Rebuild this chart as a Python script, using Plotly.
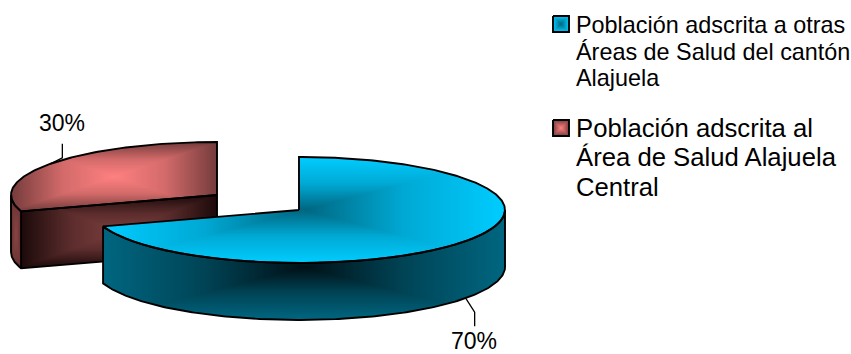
import numpy as np
import plotly.graph_objects as go

# Data
categorias = ["Población adscrita a otras Áreas de Salud del cantón Alajuela",
              "Población adscrita al Área de Salud Alajuela Central"]
porcentajes = [70, 30]
etiquetas = ["70%", "30%"]
lineas_leyenda = [["Población adscrita a otras", "Áreas de Salud del cantón", "Alajuela"],
                  ["Población adscrita al", "Área de Salud Alajuela", "Central"]]

# Pie geometry, in page pixels
RX, RY, DEPTH = 206.0, 53.0, 57.0
CENTROS = [(299.0, 210.0), (217.0, 195.0)]
FUENTE = "Liberation Sans"

W, H = 851, 354
xs = np.arange(W) + 0.5
ys = np.arange(H) + 0.5
GX, GY = np.meshgrid(xs, ys)

fig = go.Figure()
# Plotly paints heatmaps under lines within one subplot, so the front slice
# goes on an overlaying pair of axes to hide the outline of the rear slice.
capa = dict(xaxis="x", yaxis="y")


def escala(centro, borde, medio):
    a = [int(v) for v in centro[4:-1].split(",")]
    b = [int(v) for v in borde[4:-1].split(",")]
    m = [round(p + medio * (q - p)) for p, q in zip(a, b)]
    return [[0, centro], [0.5, f"rgb({m[0]},{m[1]},{m[2]})"], [1, borde]]


def degradado(mask, c_centro, c_borde, medio=0.5, caja=None):
    """Rectangular path gradient filling the pixels of a mask."""
    if not mask.any():
        return
    if caja is None:
        caja = (GX[mask].min(), GX[mask].max(), GY[mask].min(), GY[mask].max())
    x0, x1, y0, y1 = caja
    t = np.maximum(np.abs(GX - (x0 + x1) / 2) / ((x1 - x0) / 2),
                   np.abs(GY - (y0 + y1) / 2) / ((y1 - y0) / 2))
    z = np.where(mask, np.clip(t, 0, 1), np.nan)
    fila = np.where(mask.any(axis=1))[0]
    col = np.where(mask.any(axis=0))[0]
    sy, sx = slice(fila[0], fila[-1] + 1), slice(col[0], col[-1] + 1)
    fig.add_trace(go.Heatmap(x=xs[sx], y=ys[sy], z=z[sy, sx], zmin=0, zmax=1,
                             colorscale=escala(c_centro, c_borde, medio),
                             showscale=False, hoverinfo="skip", **capa))


def contorno(px, py, width=1.9):
    fig.add_trace(go.Scatter(x=px, y=py, mode="lines", hoverinfo="skip",
                             line=dict(color="black", width=width), **capa))


def punto(c, ang):
    r = np.radians(ang)
    return c[0] + RX * np.sin(r), c[1] - RY * np.cos(r)


def sector(c, a0, a1):
    ang = np.degrees(np.arctan2((GX - c[0]) / RX, -(GY - c[1]) / RY)) % 360
    dentro = ((GX - c[0]) / RX) ** 2 + ((GY - c[1]) / RY) ** 2 <= 1
    return dentro & (ang >= a0) & (ang <= a1)


def pared(mask_sup):
    """Pixels below the lower edge of a face, extruded by the pie depth."""
    inferior = np.where(mask_sup.any(axis=0), H - 1 - np.argmax(mask_sup[::-1], axis=0), -1)
    fondo = np.where(inferior >= 0, ys[np.maximum(inferior, 0)], -1e9)
    return (GY > fondo) & (GY <= fondo + DEPTH) & (inferior[None, :] >= 0)


corte = porcentajes[0] / sum(porcentajes) * 360

# Detached slice (drawn first, it sits behind)
c = CENTROS[1]
arco = np.linspace(corte, 360, 120)
ax, ay = punto(c, arco)
sup = sector(c, corte, 360)
muro = pared(sup)
esquina_x, esquina_y = punto(c, corte)
muro_ext = muro & (GX < esquina_x)
muro_int = muro & (GX >= esquina_x)
degradado(muro_ext, "rgb(135,68,68)", "rgb(105,50,50)")
degradado(muro_int, "rgb(125,62,62)", "rgb(28,10,10)", 0.35)
degradado(sup, "rgb(255,128,128)", "rgb(118,60,60)", 0.32)
ext = np.linspace(corte, 270, 30)
ex, ey = punto(c, ext)
contorno(np.r_[ex, ex[::-1], c[0], c[0], ex[0]],
         np.r_[ey, ey[::-1] + DEPTH, c[1] + DEPTH, c[1], ey[0]])
contorno([esquina_x, esquina_x], [esquina_y, esquina_y + DEPTH])
contorno(np.r_[c[0], ax, c[0]], np.r_[c[1], ay, c[1]])
mx, my = punto(c, (corte + 360) / 2)
contorno([mx, mx + 12, mx + 12], [my, my - 6, my - 20], 1.3)

# Main slice, on the overlaying axes
capa = dict(xaxis="x2", yaxis="y2")
c = CENTROS[0]
arco = np.linspace(0, corte, 300)
ax, ay = punto(c, arco)
sup = sector(c, 0, corte)
muro = pared(sup)
degradado(muro, "rgb(0,16,22)", "rgb(0,102,128)", 0.6)
degradado(sup, "rgb(0,102,128)", "rgb(0,204,255)", 0.66)
frente = np.linspace(90, corte, 200)
fx, fy = punto(c, frente)
contorno(np.r_[fx, fx[::-1], fx[0]], np.r_[fy, fy[::-1] + DEPTH, fy[0]])
contorno(np.r_[c[0], ax, c[0]], np.r_[c[1], ay, c[1]])
mx, my = punto(c, corte / 2)
contorno([mx, mx + 9, mx + 9], [my + DEPTH, my + DEPTH + 14, my + DEPTH + 28], 1.3)


def texto(x, y, s, size, anchor="left"):
    fig.add_annotation(x=x, y=y, text=s, showarrow=False, xanchor=anchor, yanchor="middle",
                       xref="x", yref="y",
                       font=dict(family=FUENTE, size=size, color="black"), align="left")


texto(474, 341, etiquetas[0], 23, "center")
texto(62, 123, etiquetas[1], 23, "center")

# Legend
ley_swatch_y = [24, 128]
ley_linea_y = [[25, 52, 78], [128, 157, 187]]
ley_size = [23.4, 25.7]
ley_color = [("rgb(0,102,128)", "rgb(0,204,255)"), ("rgb(255,128,128)", "rgb(118,60,60)")]
for sy, lineas, yy, tam, col in zip(ley_swatch_y, lineas_leyenda, ley_linea_y, ley_size, ley_color):
    caja = (553, 569, sy - 8, sy + 8)
    m = (GX >= caja[0]) & (GX <= caja[1]) & (GY >= caja[2]) & (GY <= caja[3])
    degradado(m, col[0], col[1], 0.5, caja)
    contorno([553, 569, 569, 553, 553], [sy - 8, sy - 8, sy + 8, sy + 8, sy - 8])
    for l, y in zip(lineas, yy):
        texto(574, y, l, tam)

eje_x = dict(range=[0, W], visible=False, fixedrange=True)
eje_y = dict(range=[H, 0], visible=False, fixedrange=True)
fig.update_layout(width=W, height=H, margin=dict(l=0, r=0, t=0, b=0), showlegend=False,
                  paper_bgcolor="white", plot_bgcolor="rgba(0,0,0,0)",
                  xaxis=eje_x, yaxis=eje_y,
                  xaxis2=dict(eje_x, overlaying="x"), yaxis2=dict(eje_y, overlaying="y"))
fig.write_html("out.html", config=dict(displayModeBar=False))
